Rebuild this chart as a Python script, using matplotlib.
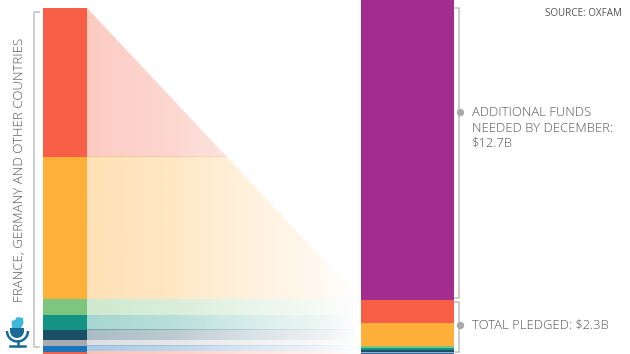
import numpy as np
import matplotlib
matplotlib.use('Agg')
import matplotlib.pyplot as plt
from matplotlib.patches import Polygon, Wedge, Arc, Rectangle

plt.rcParams['font.family'] = ['Open Sans', 'DejaVu Sans']

# pledged amounts, $B
pledged = [0.993, 0.95, 0.103, 0.10, 0.067, 0.04, 0.037, 0.017]
colors = ['#F65F45', '#FFB03B', '#7DC680', '#149385', '#1B4F66', '#A9ABB0', '#1B75BC', '#F65F45']
additional = 12.7

fig = plt.figure(figsize=(6.3, 3.54), dpi=100)
ax = fig.add_axes([0, 0, 1, 1])
ax.set_xlim(0, 630)
ax.set_ylim(354, 0)
ax.axis('off')

left_scale = 150.0
right_scale = 23.6
left_top = 8
right_top = 0

# right bar
ax.bar(407.5, additional * right_scale, width=93, bottom=right_top, color='#A32C8F', linewidth=0)
b = right_top + additional * right_scale
for v, c in zip(pledged, colors):
    ax.bar(407.5, v * right_scale, width=93, bottom=b, color=c, linewidth=0)
    b += v * right_scale
split_y = right_top + additional * right_scale

# left bar and the fading bands
hyp = [(87, left_top), (361, split_y)]
clip_poly = Polygon([hyp[0], hyp[1], (361, 354), (87, 354)], transform=ax.transData,
                    facecolor='none', edgecolor='none')
ax.add_patch(clip_poly)

fade = np.interp(np.linspace(87, 361, 256), [87, 170, 250, 320, 361], [0.38, 0.30, 0.17, 0.08, 0.0])
b = left_top
for i, (v, c) in enumerate(zip(pledged, colors)):
    h = v * left_scale
    ax.bar(65, h, width=44, bottom=b, color=c, linewidth=0)
    grad = np.zeros((1, 256, 4))
    grad[..., :3] = matplotlib.colors.to_rgb(c)
    # the big red wedge is a bit paler than the rest
    grad[..., 3] = fade * 0.85 if i == 0 else fade
    im = ax.imshow(grad, extent=(87, 361, b + h, b), aspect='auto', interpolation='bilinear', zorder=1)
    im.set_clip_path(clip_poly)
    b += h
ax.set_xlim(0, 630)
ax.set_ylim(354, 0)

# brackets
gray = '#C9C9C9'
ax.plot([39, 34, 34, 39], [12, 12, 347, 347], color=gray, lw=1.3)
ax.plot([455, 459, 459, 455], [8, 8, 298, 298], color=gray, lw=1.3)
ax.plot([455, 459, 459, 455], [302, 302, 352, 352], color=gray, lw=1.3)
ax.scatter([460, 460], [112, 325], s=28, color='#A9A9A9', zorder=3, linewidth=0)

# text
tc = '#555555'
ax.text(472, 112, 'ADDITIONAL FUNDS', fontsize=9.4, color=tc, va='center', fontweight='light')
ax.text(472, 128, 'NEEDED BY DECEMBER:', fontsize=9.4, color=tc, va='center', fontweight='light')
ax.text(472, 143, '$12.7B', fontsize=9.4, color=tc, va='center', fontweight='light')
ax.text(472, 325, 'TOTAL PLEDGED: $2.3B', fontsize=9.4, color=tc, va='center', fontweight='light')
ax.text(622, 14, 'SOURCE: OXFAM', fontsize=7.1, color=tc, va='center', ha='right')
ax.text(20, 170, 'FRANCE, GERMANY AND OTHER COUNTRIES', fontsize=9.5, color=tc, rotation=90,
        va='center', ha='center', fontweight='light')

# mic logo
blue = '#1A6A96'
ax.add_patch(Polygon([(11.5, 321), (15, 320), (17, 317), (23, 318), (23.5, 323), (21, 328), (12, 328)],
                     facecolor='#3DB8D8', edgecolor='none'))
ax.add_patch(Rectangle((10, 328), 14, 3, facecolor=blue, edgecolor='none'))
ax.add_patch(Wedge((17, 331), 7, 0, 180, facecolor=blue, edgecolor='none'))
ax.add_patch(Arc((17.5, 331), 21, 21, theta1=0, theta2=180, color=blue, lw=1.8))
ax.plot([17.5, 17.5], [341, 346], color=blue, lw=1.8)
ax.plot([9.5, 25], [346, 346], color=blue, lw=1.8)

fig.savefig('out.png', dpi=100)
